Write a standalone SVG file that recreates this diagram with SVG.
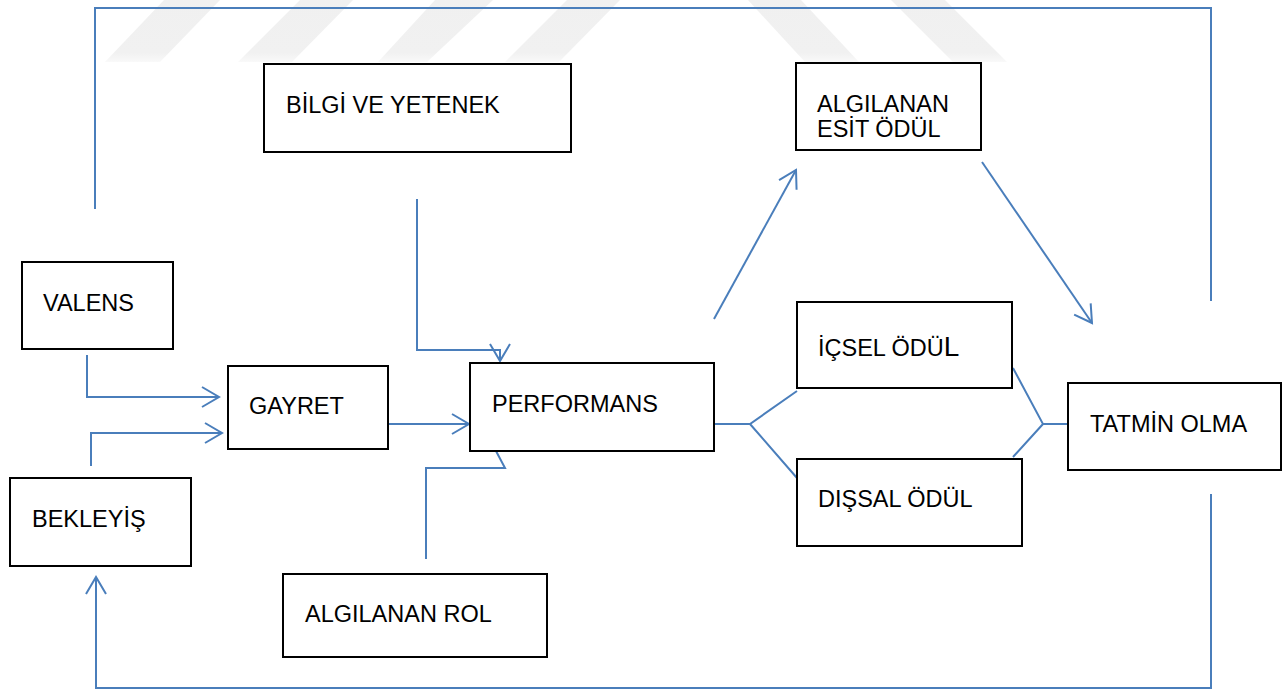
<svg xmlns="http://www.w3.org/2000/svg" width="1288" height="689" viewBox="0 0 1288 689">
<style>
.box{fill:#fff;stroke:#000;stroke-width:2}
.lbl{font-family:"Liberation Sans",Arial,sans-serif;font-size:23.5px;fill:#000}
.con{fill:none;stroke:#4a7ebb;stroke-width:2}
.wm{fill:url(#wmg)}
</style>
<defs>
<linearGradient id="wmg" x1="0" y1="0" x2="0" y2="1">
<stop offset="0" stop-color="#f0f0f0"/>
<stop offset="0.85" stop-color="#f1f1f1"/>
<stop offset="1" stop-color="#f9f9f9"/>
</linearGradient>
<marker id="arr" markerUnits="userSpaceOnUse" markerWidth="40" markerHeight="40" refX="20" refY="20" orient="auto" viewBox="0 0 40 40">
<path d="M3,10 L20,20 L3,30" fill="none" stroke="#4a7ebb" stroke-width="2"/>
</marker>
</defs>
<rect width="1288" height="689" fill="#fff"/>
<g id="watermark">
<polygon class="wm" points="164,0 220,0 160,62 105,62"/>
<polygon class="wm" points="300,0 353,0 292,62 238,62"/>
<polygon class="wm" points="435,0 493,0 427,62 378,62"/>
<polygon class="wm" points="567,0 620,0 559,62 505,62"/>
<polygon class="wm" points="748,0 801,0 859,62 805,62"/>
<polygon class="wm" points="891,0 945,0 1007,62 953,62"/>
</g>
<g id="connectors">
<path class="con" d="M95,209 V8 H1211 V301"/>
<path class="con" d="M1211,494 V688 H96 V577" marker-end="url(#arr)"/>
<path class="con" d="M87,355 V397 H219" marker-end="url(#arr)"/>
<path class="con" d="M91,466 V433 H222" marker-end="url(#arr)"/>
<path class="con" d="M388,424 H469" marker-end="url(#arr)"/>
<path class="con" d="M417,199 V350 H500 V361" marker-end="url(#arr)"/>
<path class="con" d="M426,559 V468 H505 L496,451"/>
<path class="con" d="M714,424 H750 L797,391 M750,424 L797,478"/>
<path class="con" d="M1013,368 L1043,424 L1013,457 M1043,424 H1068"/>
<path class="con" d="M714,319 L796,170" marker-end="url(#arr)"/>
<path class="con" d="M982,162 L1092,323" marker-end="url(#arr)"/>
</g>
<g id="bilgi"><rect class="box" x="264" y="64" width="307" height="88"/><text class="lbl" x="286" y="113">BİLGİ VE YETENEK</text></g>
<g id="esit"><rect class="box" x="796" y="63" width="185" height="87"/><text class="lbl" x="817" y="112">ALGILANAN</text><text class="lbl" x="817" y="137">ESİT ÖDÜL</text></g>
<g id="valens"><rect class="box" x="22" y="262" width="151" height="87"/><text class="lbl" x="43" y="311">VALENS</text></g>
<g id="gayret"><rect class="box" x="228" y="366" width="160" height="83"/><text class="lbl" x="249" y="414">GAYRET</text></g>
<g id="performans"><rect class="box" x="470" y="363" width="244" height="88"/><text class="lbl" x="492" y="412">PERFORMANS</text></g>
<g id="bekleyis"><rect class="box" x="10" y="478" width="181" height="88"/><text class="lbl" x="32" y="527">BEKLEYİŞ</text></g>
<g id="rol"><rect class="box" x="283" y="574" width="264" height="83"/><text class="lbl" x="305" y="622">ALGILANAN ROL</text></g>
<g id="icsel"><rect class="box" x="797" y="302" width="215" height="86"/><text class="lbl" x="818" y="356">İÇSEL ÖDÜ<tspan style="font-size:28px">L</tspan></text></g>
<g id="dissal"><rect class="box" x="797" y="459" width="225" height="87"/><text class="lbl" x="818" y="507">DIŞSAL ÖDÜL</text></g>
<g id="tatmin"><rect class="box" x="1068" y="383" width="213" height="87"/><text class="lbl" x="1090" y="432">TATMİN OLMA</text></g>
</svg>
